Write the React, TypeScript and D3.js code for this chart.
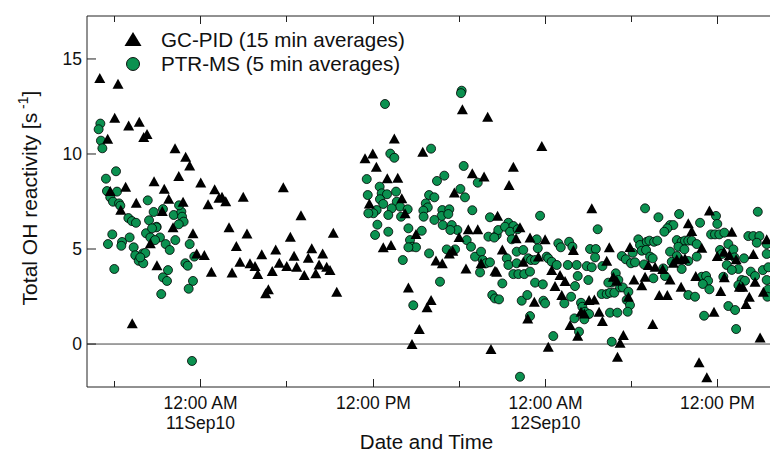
import React from "react";
import * as d3 from "d3";

// hours relative to 11 Sep 2010 00:00, value in s^-1
const gcPoints: [number, number][] = [
  [-7.0,14.0],[-6.45,10.8],[-6.27,8.05],[-5.96,11.9],[-5.73,13.7],[-5.54,7.07],[-5.20,8.28],[-4.99,11.5],[-4.74,1.09],[-4.46,7.44],[-4.25,11.7],[-3.94,10.9],[-3.71,11.05],[-3.48,5.3],[-3.22,8.56],[-3.02,4.14],[-2.65,7.0],[-2.51,8.17],[-2.20,7.65],[-1.90,6.14],[-1.76,10.3],[-1.50,8.84],[-1.20,7.49],[-1.02,9.86],[-0.74,9.4],[-0.51,5.83],[-0.25,4.77],[0.03,8.5],[0.28,4.68],[0.54,7.35],[0.77,3.81],[1.00,8.14],[1.30,7.7],[1.51,7.75],[1.77,7.51],[2.00,6.14],[2.21,3.77],[2.51,5.16],[2.76,4.33],[2.99,7.75],[3.25,5.82],[3.46,4.25],[3.81,4.1],[4.00,3.68],[4.28,4.72],[4.55,2.67],[4.74,2.88],[5.01,3.84],[5.25,4.98],[5.50,4.28],[5.78,8.25],[6.02,4.1],[6.27,5.65],[6.53,4.65],[6.71,4.07],[7.01,6.77],[7.24,3.63],[7.52,4.54],[7.76,5.04],[8.04,3.72],[8.27,4.19],[8.52,4.77],[8.80,4.07],[9.03,3.89],[9.26,5.86],[9.50,2.75],
  [11.47,9.77],[11.77,7.4],[12.01,10.03],[12.26,9.33],[12.74,5.09],[13.02,8.72],[13.28,5.21],[13.51,10.81],[13.75,8.75],[14.03,7.67],[14.26,6.88],[14.49,2.98],[14.74,0.0],[15.02,5.79],[15.25,0.79],[15.49,10.12],[15.79,1.93],[16.07,2.32],[16.41,4.4],[16.85,4.25],[17.34,4.77],[17.58,4.91],[17.69,7.98],[18.02,5.63],[18.25,12.35],[18.50,3.98],[18.66,6.04],[18.94,8.98],[19.32,6.04],[19.55,4.25],[19.76,8.81],[20.01,11.96],[20.24,-0.26],[20.52,3.86],[20.64,3.81],[20.70,6.75],[21.03,4.98],[21.50,8.37],[21.80,9.33],[21.99,5.56],[22.26,6.14],[22.49,4.33],[22.80,1.35],[22.96,5.61],[23.26,2.23],[23.54,4.6],[23.78,10.42],[24.01,5.51],[24.23,-0.14],[24.47,3.89],[24.70,3.05],[25.05,3.63],[25.17,2.58],[25.40,3.32],[25.75,1.0],[25.98,4.95],[26.28,0.44],[26.51,1.7],[26.74,1.61],[27.07,2.32],[27.26,7.14],[27.44,2.35],[27.77,1.7],[28.00,1.21],[28.30,4.38],[28.48,5.09],[28.76,3.54],[29.00,3.33],[29.05,-0.67],[29.23,0.07],[29.46,0.47],[29.81,2.49],[29.92,5.1],[30.20,3.4],[30.74,3.1],[30.97,3.54],[31.20,4.16],[31.50,1.05],[31.67,4.07],[31.96,2.58],[32.20,3.95],[32.52,2.58],[32.71,3.4],[32.94,4.28],[33.18,4.46],[33.48,3.02],[33.52,4.46],[33.75,4.51],[33.98,6.35],[34.22,5.95],[34.50,3.58],[34.73,-0.96],[34.92,5.07],[35.27,-1.75],[35.45,7.02],[35.77,1.7],[36.00,4.63],[36.24,2.79],[36.47,4.86],[36.49,3.51],[36.84,4.68],[37.01,5.91],[37.31,4.46],[37.54,3.02],[37.77,3.02],[38.00,2.11],[38.23,2.49],[38.51,4.74],[38.63,3.28],[38.98,0.35],[39.21,2.75],[39.44,5.51]
];

const ptrPoints: [number, number][] = [
  [-6.96,11.6],[-7.08,11.3],[-6.92,10.7],[-6.82,10.3],[-5.87,9.09],[-6.57,8.7],[-6.50,8.05],[-5.80,8.02],[-6.27,7.72],[-6.08,7.49],[-5.66,7.4],[-5.57,7.28],[-3.66,7.56],[-2.60,7.1],[-3.25,6.95],[-5.01,6.63],[-4.76,6.47],[-4.48,6.38],[-3.57,6.51],[-3.04,6.17],[-1.85,6.79],[-1.32,6.96],[-1.27,6.7],[-1.16,6.44],[-1.50,6.3],[-1.48,7.3],[-6.13,5.77],[-6.43,5.26],[-5.45,5.37],[-5.50,5.17],[-4.92,5.61],[-4.64,5.09],[-4.53,4.67],[-4.29,4.38],[-3.99,4.77],[-3.83,4.79],[-3.97,4.25],[-4.18,4.56],[-5.99,3.95],[-3.78,5.83],[-3.48,5.61],[-3.06,6.14],[-3.36,6.09],[-2.81,5.61],[-3.15,5.47],[-2.41,5.26],[-2.13,4.95],[-1.74,5.47],[-2.25,3.89],[-2.60,3.51],[-2.32,3.32],[-2.72,2.63],[-0.74,5.26],[-1.04,4.25],[-0.88,4.12],[-0.42,4.6],[-0.51,3.32],[-0.81,2.91],[-0.58,-0.89],
  [18.20,13.33],[18.15,13.2],[12.86,12.63],[16.07,10.28],[13.23,10.02],[13.51,9.8],[18.34,9.37],[16.99,8.86],[16.48,8.58],[11.59,8.68],[18.11,8.16],[18.43,7.72],[19.32,8.49],[12.49,8.28],[12.63,7.93],[13.00,7.88],[12.51,7.62],[12.74,7.37],[11.66,7.84],[13.63,8.02],[13.68,7.49],[13.91,7.23],[14.44,7.09],[15.93,7.84],[16.30,7.72],[15.70,7.4],[15.84,7.19],[15.53,7.02],[13.33,7.14],[13.09,6.79],[12.28,7.05],[12.05,6.88],[11.70,6.88],[13.98,6.7],[16.85,7.05],[17.34,7.09],[16.80,6.74],[17.27,6.84],[15.55,6.7],[16.30,6.53],[18.94,7.04],[12.33,6.28],[13.09,5.91],[12.17,5.74],[14.49,6.09],[15.42,5.96],[16.88,6.26],[17.51,6.26],[17.90,6.0],[17.41,6.0],[20.17,6.67],[20.06,5.65],[20.64,5.74],[20.75,6.0],[14.60,5.47],[14.76,5.12],[15.02,5.09],[14.49,5.09],[14.10,4.42],[15.93,4.77],[17.16,4.98],[17.74,4.98],[16.69,3.28],[14.83,2.04],[18.55,5.47],[18.85,5.12],[19.13,4.6],[19.55,4.86],[19.67,4.42],[19.90,4.25],[20.17,4.3],[19.48,3.77],[20.47,5.6],[20.33,2.58],[20.52,2.4],[20.80,2.35],
  [23.66,6.75],[21.45,6.38],[21.22,6.17],[21.80,6.21],[21.57,5.91],[22.10,6.04],[21.69,5.51],[23.43,5.51],[23.50,5.04],[24.93,5.3],[25.10,5.09],[25.68,5.38],[25.91,5.12],[27.67,6.04],[22.03,4.86],[22.49,4.95],[21.34,4.51],[21.45,4.16],[22.03,4.25],[22.84,4.51],[23.03,4.42],[23.31,4.42],[24.12,4.6],[24.23,4.51],[24.47,4.33],[24.82,4.16],[25.59,4.16],[26.21,4.16],[26.91,4.1],[27.26,4.04],[27.14,5.0],[27.54,5.0],[27.49,4.56],[28.00,4.1],[29.35,4.63],[29.63,4.46],[29.99,4.25],[21.03,3.19],[21.80,3.68],[22.15,3.68],[22.56,3.68],[22.96,3.81],[23.31,3.23],[23.85,3.14],[22.38,2.28],[22.77,2.58],[23.89,2.28],[24.01,2.14],[26.28,3.58],[26.09,3.05],[25.82,2.49],[25.35,2.14],[27.02,3.37],[22.96,1.47],[26.51,2.17],[26.60,1.96],[26.79,1.7],[27.07,1.58],[26.05,1.35],[26.74,1.3],[26.37,0.65],[24.58,0.42],[27.95,2.63],[28.30,2.63],[28.53,2.7],[28.83,2.7],[29.23,2.98],[28.65,3.23],[28.41,3.23],[28.93,3.72],[29.11,3.37],[29.42,2.98],[29.81,2.75],[29.69,2.32],[29.92,2.05],[29.76,1.7],[28.53,1.65],[29.04,1.65],[28.65,0.12],[22.26,-1.72],
  [30.97,7.14],[31.90,6.67],[33.34,6.84],[32.71,6.26],[32.94,6.26],[32.52,6.09],[32.31,5.91],[34.80,6.38],[35.91,6.74],[36.00,6.32],[38.82,6.96],[35.57,5.77],[35.84,5.77],[36.14,5.77],[36.49,5.86],[38.16,5.68],[38.51,5.68],[38.93,5.68],[38.75,5.33],[30.50,5.51],[30.62,5.21],[31.09,5.38],[31.27,5.44],[31.60,5.38],[31.82,5.44],[30.11,4.8],[30.27,4.3],[30.74,4.91],[31.04,4.95],[31.32,4.6],[31.50,4.51],[30.90,4.19],[32.24,3.98],[32.36,3.58],[31.55,3.46],[33.18,5.47],[33.52,5.38],[33.75,5.44],[33.98,5.44],[34.22,5.44],[34.57,5.26],[32.71,4.86],[33.29,5.12],[33.71,4.98],[33.18,4.63],[32.83,4.33],[33.98,4.37],[34.57,4.6],[33.52,3.95],[34.92,3.54],[35.22,3.58],[35.36,3.33],[34.99,3.16],[35.45,2.88],[33.98,2.58],[34.45,2.49],[35.08,1.49],[36.77,5.26],[36.19,4.95],[36.31,4.74],[37.12,4.98],[37.19,4.56],[36.66,4.16],[37.47,3.95],[37.01,3.9],[36.42,3.54],[37.86,4.51],[38.33,3.81],[38.63,3.58],[37.70,3.37],[37.93,3.33],[37.47,3.1],[39.17,3.89],[39.44,3.37],[39.56,4.04],[39.44,4.74],[39.44,5.26],[36.77,2.0],[37.24,1.79],[37.31,0.79],[39.56,2.88],[39.49,2.49]
];

const yTicks = [0, 5, 10, 15];
const legendLabels = ["GC-PID (15 min averages)", "PTR-MS (5 min averages)"];
const xTitle = "Date and Time";

const base = new Date(2010, 8, 11, 0, 0, 0).getTime();
const toDate = (h: number) => new Date(base + h * 3600e3);

const W = 770, H = 454;
const L = 87, R = 770, T = 16, B = 387;
const FONT = "'Liberation Sans', Arial, Helvetica, sans-serif";
const GREEN = "#0b9150";

function tri(cx: number, cy: number, w: number, h: number) {
  return `M${cx},${cy - h / 2}L${cx + w / 2},${cy + h / 2}L${cx - w / 2},${cy + h / 2}Z`;
}

export default function App() {
  const x = d3.scaleTime().domain([toDate(-7.89), toDate(39.67)]).range([L, R]);
  const y = d3.scaleLinear().domain([-2.26, 17.26]).range([B, T]);
  const xt = x.ticks(d3.timeHour.every(6) as any);
  const fTime = d3.timeFormat("%I:%M %p");
  const fDate = d3.timeFormat("%d%b%y");
  const axisColor = "#222";

  return (
    <svg width={W} height={H} style={{ position: "absolute", left: 0, top: 0, background: "#fff" }} fontFamily={FONT}>
      <defs>
        <clipPath id="plot"><rect x={L} y={T} width={R - L} height={B - T} /></clipPath>
      </defs>
      <rect x={0} y={0} width={W} height={H} fill="#fff" />
      <line x1={L} x2={R} y1={y(0)} y2={y(0)} stroke="#444" strokeWidth={1} />
      <g clipPath="url(#plot)">
        {ptrPoints.map(([h, v], i) => (
          <circle key={"p" + i} cx={x(toDate(h))} cy={y(v)} r={4.5} fill={GREEN} stroke="#000" strokeWidth={0.8} />
        ))}
        {gcPoints.map(([h, v], i) => (
          <path key={"g" + i} d={tri(x(toDate(h)), y(v), 11, 10)} fill="#000" />
        ))}
      </g>
      <line x1={L} x2={R} y1={T} y2={T} stroke={axisColor} strokeWidth={1} />
      <line x1={L} x2={R} y1={B} y2={B} stroke={axisColor} strokeWidth={1} />
      <line x1={L} x2={L} y1={T} y2={B} stroke={axisColor} strokeWidth={1} />
      {xt.map((d, i) => {
        const px = Math.round(x(d)) + 0.5;
        const major = d.getHours() % 12 === 0;
        const len = major ? 8 : 6;
        return (
          <g key={"xt" + i}>
            <line x1={px} x2={px} y1={B} y2={B - len} stroke={axisColor} />
            <line x1={px} x2={px} y1={T} y2={T + len} stroke={axisColor} />
            {major && (
              <text x={px} y={409} textAnchor="middle" fontSize={17.5} fill="#111">{fTime(d)}</text>
            )}
            {major && d.getHours() === 0 && (
              <text x={px} y={429} textAnchor="middle" fontSize={17.5} fill="#111">{fDate(d)}</text>
            )}
          </g>
        );
      })}
      {yTicks.map((t) => (
        <g key={"yt" + t}>
          <line x1={L} x2={L + 9} y1={y(t)} y2={y(t)} stroke={axisColor} />
          <text x={82} y={y(t) + 6.3} textAnchor="end" fontSize={17.5} fill="#111">{t}</text>
        </g>
      ))}
      <text x={426.5} y={449} textAnchor="middle" fontSize={20.5} fill="#111">{xTitle}</text>
      <text transform="translate(37,198) rotate(-90)" textAnchor="middle" fontSize={21} fill="#111">
        Total OH reactivity [s<tspan fontSize={14} dy={-9}> -1</tspan><tspan dy={9}>]</tspan>
      </text>
      <path d={tri(133, 39, 17, 14)} fill="#000" />
      <text x={161} y={46.7} fontSize={20.6} fill="#111">{legendLabels[0]}</text>
      <circle cx={133} cy={64} r={6.5} fill={GREEN} stroke="#000" strokeWidth={0.9} />
      <text x={161} y={70.5} fontSize={20.6} fill="#111">{legendLabels[1]}</text>
    </svg>
  );
}
